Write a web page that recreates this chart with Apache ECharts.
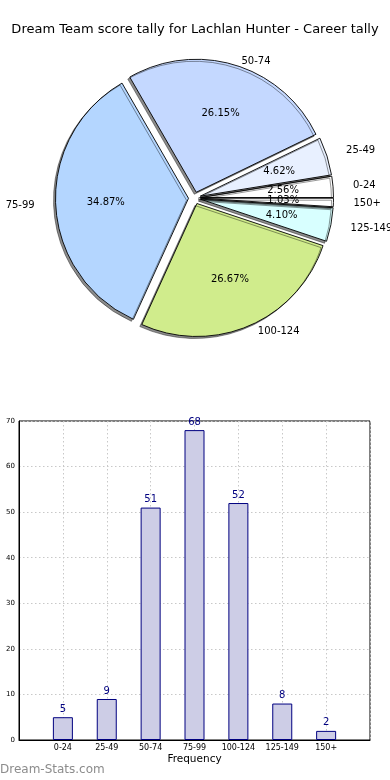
<!DOCTYPE html>
<html><head><meta charset="utf-8">
<script src="https://cdn.jsdelivr.net/npm/echarts@6/dist/echarts.min.js"></script>
<style>html,body{margin:0;padding:0;background:#fff}#c{width:390px;height:780px}</style>
</head><body><div id="c"></div>
<script>
const categories = ['0-24','25-49','50-74','75-99','100-124','125-149','150+'];
const counts = [5, 9, 51, 68, 52, 8, 2];
const sliceColors = ['#ffffff','#e8f0ff','#c4d8ff','#b4d6ff','#d0ec8c','#d8ffff','#ffffff'];
const yTicks = [0,10,20,30,40,50,60,70];
const titleText = 'Dream Team score tally for Lachlan Hunter - Career tally';

const FONT = 'DejaVu Sans';
const R = 133;
const CENTER = [194.5, 198];
const OFF = 6;
// outer label distance per slice (mimics the slightly elliptical original)
const nameLabelGap = [20, 20, 4, 21, 7, 20, 20];
const nameLabelShift = [0, 0, 5, 0, 5, 0, 0];

const pieData = categories.map((c,i)=>({name:c, value:counts[i], selected:true,
  itemStyle:{color:sliceColors[i]}, labelLine:{show:false, length:nameLabelGap[i], length2:nameLabelShift[i]}}));
const pctData = categories.map((c,i)=>({name:c, value:counts[i], selected:true}));

const xCats = [''].concat(categories, ['']);
const barVals = [null].concat(counts, [null]);

const chart = echarts.init(document.getElementById('c'), null, {renderer:'canvas'});
chart.setOption({
  animation:false,
  title:{text:titleText, left:'center', top:23, padding:0,
    textStyle:{fontFamily:FONT, fontSize:13, fontWeight:'normal', color:'#000'}},
  graphic:[{type:'text', left:0, top:764, style:{text:'Dream-Stats.com', fill:'#8c8c8c', font:'12px "DejaVu Sans"'}}],
  grid:{left:19, right:20, top:421, bottom:40, show:true, borderColor:'#000', borderWidth:1, containLabel:false, outerBoundsMode:'none'},
  xAxis:{type:'category', data:xCats, boundaryGap:false,
    axisLine:{lineStyle:{color:'#000'}}, axisTick:{show:false},
    axisLabel:{interval:0, fontFamily:FONT, fontSize:8, color:'#000', margin:4},
    splitLine:{show:true, lineStyle:{color:'#c8c8c8', type:[1.5,2.5], width:1}},
    name:'Frequency', nameLocation:'middle', nameGap:14,
    nameTextStyle:{fontFamily:FONT, fontSize:10.5, color:'#000'}},
  yAxis:{type:'value', min:0, max:70, interval:10,
    axisLine:{show:true, lineStyle:{color:'#000'}}, axisTick:{show:false},
    axisLabel:{fontFamily:FONT, fontSize:7, color:'#000', margin:4},
    splitLine:{show:true, lineStyle:{color:'#c8c8c8', type:[1.5,2.5], width:1}}},
  series:[
    {type:'pie', center:CENTER, radius:R, startAngle:0, clockwise:false,
     selectedMode:'multiple', selectedOffset:OFF, avoidLabelOverlap:false, silent:true,
     itemStyle:{borderColor:'#000', borderWidth:0.9, shadowColor:'rgba(0,0,0,0.45)', shadowBlur:0, shadowOffsetX:-2, shadowOffsetY:2},
     select:{itemStyle:{borderColor:'#000', borderWidth:0.9}},
     label:{show:true, position:'outside', formatter:'{b}', fontFamily:FONT, fontSize:10, color:'#000', distanceToLabelLine:0},
     labelLine:{show:false, length:13, length2:0},
     labelLayout:{hideOverlap:false},
     data:pieData},
    {type:'pie', center:CENTER, radius:R*1.2, startAngle:0, clockwise:false,
     selectedMode:'multiple', selectedOffset:OFF, silent:true, z:5, avoidLabelOverlap:false,
     itemStyle:{color:'rgba(0,0,0,0)', borderWidth:0},
     select:{itemStyle:{color:'rgba(0,0,0,0)', borderWidth:0}},
     label:{show:true, position:'inside', overflow:'none', formatter:(p)=>p.percent.toFixed(2)+'%', fontFamily:FONT, fontSize:10, color:'#000'},
     labelLine:{show:false},
     labelLayout:{hideOverlap:false},
     data:pctData},
    {type:'bar', data:barVals, barWidth:20,
     itemStyle:{color:'#cdcde6', borderColor:'#000080', borderWidth:1},
     label:{show:true, position:'top', distance:3, fontFamily:FONT, fontSize:10, color:'#000080'}}
  ]
});
</script></body></html>
